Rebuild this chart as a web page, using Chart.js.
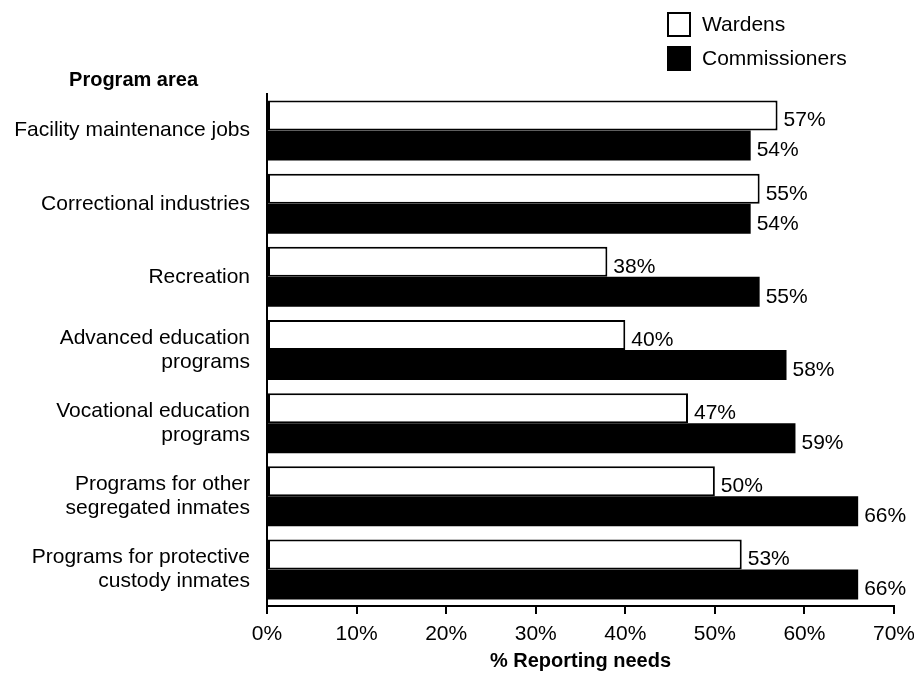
<!DOCTYPE html>
<html>
<head>
<meta charset="utf-8">
<script src="https://cdn.jsdelivr.net/npm/chart.js@4/dist/chart.umd.min.js"></script>
<style>
    html, body { margin: 0; padding: 0; background: #fff; }
    #wrap { width: 914px; height: 674px; }
</style>
</head>
<body>
<div id="wrap"><canvas id="grafico" width="914" height="674"></canvas></div>
<script>
const programAreas = [
    "Facility maintenance jobs",
    "Correctional industries",
    "Recreation",
    ["Advanced education", "programs"],
    ["Vocational education", "programs"],
    ["Programs for other", "segregated inmates"],
    ["Programs for protective", "custody inmates"]
];
const wardens = [57, 55, 38, 40, 47, 50, 53];
const commissioners = [54, 54, 55, 58, 59, 66, 66];
const xTicks = [0, 10, 20, 30, 40, 50, 60, 70];

const fuente = "'Liberation Sans', Arial, Helvetica, sans-serif";

function loadPage() {
    // etiquetas de % al final de cada barra
    const valoresPlugin = {
        id: "valores",
        afterDatasetsDraw(chart) {
            const ctx = chart.ctx;
            ctx.save();
            ctx.font = "21px " + fuente;
            ctx.fillStyle = "#000";
            ctx.textAlign = "left";
            ctx.textBaseline = "middle";
            chart.data.datasets.forEach((dataset, i) => {
                chart.getDatasetMeta(i).data.forEach((bar, k) => {
                    ctx.fillText(dataset.data[k] + "%", bar.x + 6, bar.y + 5);
                });
            });
            ctx.restore();
        }
    };

    // leyenda en columna y titulo "Program area"
    const extrasPlugin = {
        id: "extras",
        afterDraw(chart) {
            const ctx = chart.ctx;
            ctx.save();
            ctx.font = "bold 20px " + fuente;
            ctx.fillStyle = "#000";
            ctx.textAlign = "right";
            ctx.textBaseline = "middle";
            ctx.fillText("Program area", 198, 80);

            ctx.font = "21px " + fuente;
            ctx.textAlign = "left";
            chart.data.datasets.forEach((dataset, i) => {
                const y = 13 + i * 34;
                ctx.fillStyle = dataset.backgroundColor;
                ctx.fillRect(668, y, 22, 23);
                ctx.strokeStyle = "#000";
                ctx.lineWidth = 2;
                ctx.strokeRect(668, y, 22, 23);
                ctx.fillStyle = "#000";
                ctx.fillText(dataset.label, 702, y + 12);
            });
            ctx.restore();
        }
    };

    const data = {
        labels: programAreas,
        datasets: [
            {
                label: "Wardens",
                data: wardens,
                backgroundColor: "#ffffff",
                borderColor: "#000000",
                borderWidth: 2,
                borderSkipped: false,
                categoryPercentage: 0.82,
                barPercentage: 1.0
            },
            {
                label: "Commissioners",
                data: commissioners,
                backgroundColor: "#000000",
                borderColor: "#000000",
                borderWidth: 0,
                categoryPercentage: 0.82,
                barPercentage: 1.0
            }
        ]
    };

    const config = {
        type: "bar",
        data: data,
        plugins: [valoresPlugin, extrasPlugin],
        options: {
            indexAxis: "y",
            responsive: false,
            animation: false,
            layout: { padding: { top: 94, right: 20, bottom: 0, left: 0 } },
            plugins: {
                legend: { display: false },
                tooltip: { enabled: false }
            },
            scales: {
                x: {
                    min: 0,
                    max: 70,
                    afterBuildTicks: scale => {
                        scale.ticks = xTicks.map(v => ({ value: v }));
                    },
                    afterFit: scale => {
                        scale.height = 68;
                        scale.paddingLeft = 0;
                        scale.paddingRight = 0;
                    },
                    ticks: {
                        color: "#000",
                        padding: 8,
                        font: { family: fuente, size: 21 },
                        callback: v => v + "%"
                    },
                    grid: {
                        display: true,
                        drawOnChartArea: false,
                        drawTicks: true,
                        tickLength: 8,
                        color: "#000",
                        lineWidth: 2
                    },
                    border: { display: true, color: "#000", width: 2 },
                    title: {
                        display: true,
                        text: "% Reporting needs",
                        color: "#000",
                        font: { family: fuente, size: 20, weight: "bold" },
                        padding: { top: 0, bottom: 1 }
                    }
                },
                y: {
                    afterFit: scale => { scale.width = 267; },
                    ticks: {
                        color: "#000",
                        padding: 17,
                        font: { family: fuente, size: 21, lineHeight: 1.15 }
                    },
                    grid: { display: false, drawTicks: false },
                    border: { display: true, color: "#000", width: 2 }
                }
            }
        }
    };

    const chart = new Chart(
        document.getElementById("grafico").getContext("2d"),
        config
    );
}
window.addEventListener("DOMContentLoaded", loadPage);
</script>
</body>
</html>
